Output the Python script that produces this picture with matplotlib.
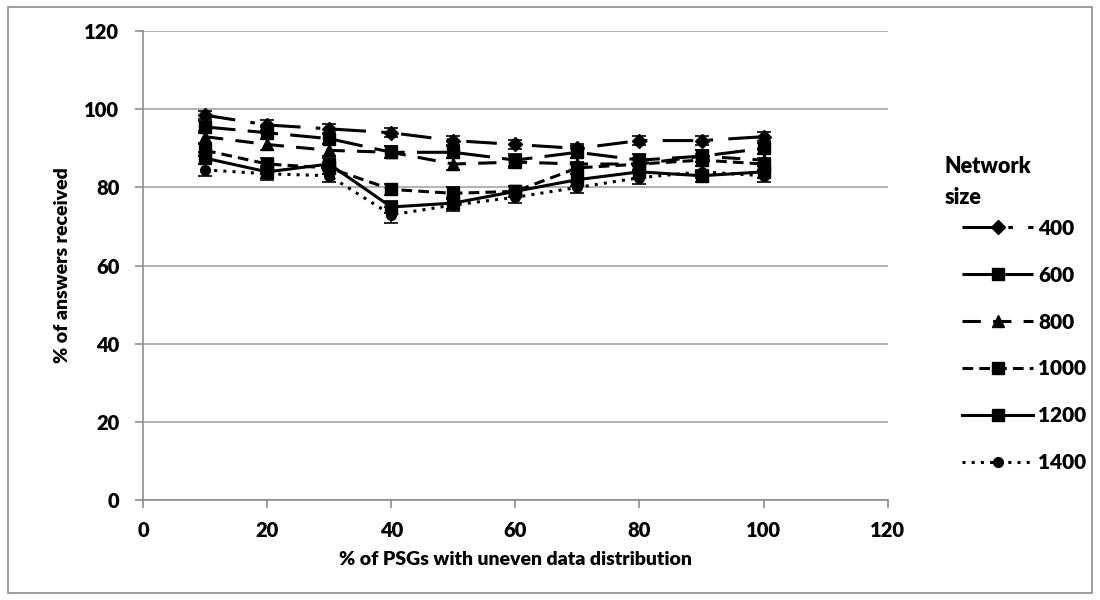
import matplotlib
matplotlib.use("Agg")
import matplotlib.pyplot as plt
from matplotlib.patches import Rectangle

plt.rcParams["font.family"] = ["Lato", "DejaVu Sans"]
plt.rcParams["font.weight"] = "heavy"
WT = "heavy"

# x: share of PSGs with uneven data distribution (%)
psg_share = [10, 20, 30, 40, 50, 60, 70, 80, 90, 100]

net_sizes = ["400", "600", "800", "1000", "1200", "1400"]

# % of answers received for each network size
ans_400 = [98.5, 96.0, 95.0, 94.0, 92.0, 91.0, 90.0, 92.0, 92.0, 93.0]
ans_600 = [95.5, 94.0, 92.5, 89.0, 89.0, 87.0, 89.0, 87.0, 88.0, 90.0]
ans_800 = [93.0, 91.0, 89.5, 89.0, 86.0, 86.5, 86.0, 86.0, 88.0, 87.0]
ans_1000 = [89.5, 86.0, 85.0, 79.5, 78.5, 79.0, 85.0, 86.0, 87.0, 86.0]
ans_1200 = [87.5, 84.0, 86.0, 75.0, 76.0, 79.0, 82.0, 84.0, 83.0, 84.0]
ans_1400 = [84.5, 83.5, 83.0, 73.0, 75.5, 77.5, 80.0, 82.5, 84.0, 83.0]

# half-width of the error bars
err_400 = [1.0, 1.2, 1.2, 1.2, 1.2, 1.2, 1.2, 1.2, 1.2, 1.2]
err_600 = [1.5, 1.5, 1.5, 1.5, 1.5, 1.5, 1.5, 1.5, 1.5, 1.5]
err_800 = [1.5, 1.5, 1.5, 1.5, 1.5, 1.5, 1.5, 1.5, 1.5, 1.5]
err_1000 = [1.5, 1.5, 1.5, 1.5, 1.5, 1.5, 1.5, 1.5, 1.5, 1.5]
err_1200 = [1.5, 1.5, 1.5, 1.5, 1.5, 1.5, 1.5, 1.5, 1.5, 1.5]
err_1400 = [1.5, 1.5, 1.5, 2.0, 1.5, 1.5, 1.5, 1.5, 1.5, 1.5]

answers = [ans_400, ans_600, ans_800, ans_1000, ans_1200, ans_1400]
errors = [err_400, err_600, err_800, err_1000, err_1200, err_1400]
markers = ["D", "s", "^", "s", "s", "o"]
marker_sizes = [7, 9, 8, 9, 9, 7]
dash_styles = [(10, 5, 1.5, 5), (10, 4), (6, 4), (3.5, 2), (), (1, 2)]

fig = plt.figure(figsize=(11, 6), dpi=100)
fig.patches.append(Rectangle((0.007, 0.012), 0.986, 0.976, transform=fig.transFigure,
                             fill=False, edgecolor="#8c8c8c", linewidth=1.2))
ax = fig.add_axes([0.130, 0.1667, 0.677, 0.7813])

for vals, errs, lab, mk, ms, ds in zip(answers, errors, net_sizes, markers, marker_sizes, dash_styles):
    ax.errorbar(psg_share, vals, yerr=errs, fmt="none", ecolor="black",
                elinewidth=1.2, capsize=5, capthick=1.2, zorder=3)
    line, = ax.plot(psg_share, vals, color="black", linewidth=2.2, marker=mk,
                    markersize=ms, label=lab, zorder=4)
    if ds:
        line.set_dashes(ds)

ax.set_xlim(0, 120)
ax.set_ylim(0, 120)
ax.set_xticks(range(0, 121, 20))
ax.set_yticks(range(0, 121, 20))
ax.yaxis.grid(True, color="#a6a6a6", linewidth=1.2)
ax.set_axisbelow(True)
for side in ["top", "right"]:
    ax.spines[side].set_visible(False)
for side in ["left", "bottom"]:
    ax.spines[side].set_color("#8c8c8c")
    ax.spines[side].set_linewidth(1.2)
ax.tick_params(axis="both", colors="#8c8c8c", length=6, width=1.2, labelsize=14.5,
               labelcolor="black")
ax.tick_params(axis="x", pad=9)
ax.tick_params(axis="y", pad=11)
for lbl in ax.get_xticklabels() + ax.get_yticklabels():
    lbl.set_fontweight(WT)

ax.set_xlabel("% of PSGs with uneven data distribution", fontsize=14,
              fontweight=WT, labelpad=8)
ax.set_ylabel("% of answers received", fontsize=14, fontweight=WT, labelpad=10)

# legend title sits above the entries, a bit to the left of them
fig.text(0.859, 1 - 182 / 600, "Network\nsize", fontsize=15.5, fontweight=WT,
         ha="left", va="center", linespacing=1.6)
leg = ax.legend(loc="upper left", bbox_to_anchor=(1.075, 0.64), frameon=False,
                handlelength=3.4, labelspacing=1.34, handletextpad=0.25,
                fontsize=15)
for t in leg.get_texts():
    t.set_fontweight(WT)

fig.savefig("out.png", dpi=100)
